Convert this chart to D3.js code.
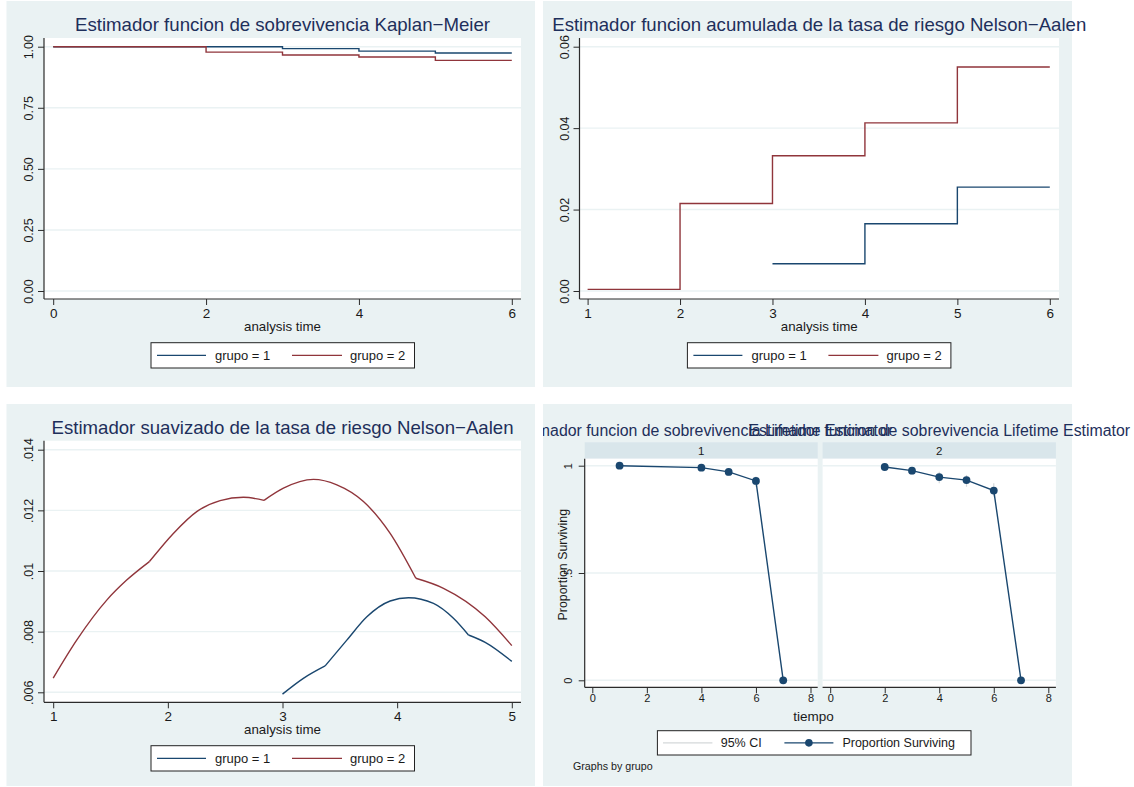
<!DOCTYPE html>
<html>
<head>
<meta charset="utf-8">
<script src="https://cdn.jsdelivr.net/npm/d3@7"></script>
<style>
  body { margin: 0; background: #fff; }
  svg { display: block; }
  text { font-family: "Liberation Sans", Arial, Helvetica, sans-serif; }
</style>
</head>
<body>
<svg id="chart" width="1134" height="787"></svg>
<script>
// ---------------- data ----------------
const groupLabels = ["grupo = 1", "grupo = 2"];

// Kaplan–Meier survival estimate (right-continuous steps)
const kmTime1 = [0, 3, 4, 5, 6];
const kmSurv1 = [1, 0.992, 0.982, 0.974, 0.974];
const kmTime2 = [0, 2, 3, 4, 5, 6];
const kmSurv2 = [1, 0.978, 0.966, 0.958, 0.944, 0.944];
const kmTicksX = [0, 2, 4, 6];
const kmTicksY = [0, 0.25, 0.5, 0.75, 1];
const kmTickLabelsY = ["0.00", "0.25", "0.50", "0.75", "1.00"];

// Nelson–Aalen cumulative hazard
const naTime1 = [3, 4, 5, 6];
const naHaz1 = [0.0067, 0.0165, 0.0255, 0.0255];
const naTime2 = [1, 2, 3, 4, 5, 6];
const naHaz2 = [0.0004, 0.0215, 0.0332, 0.0413, 0.0550, 0.0550];
const naTicksX = [1, 2, 3, 4, 5, 6];
const naTicksY = [0, 0.02, 0.04, 0.06];
const naTickLabelsY = ["0.00", "0.02", "0.04", "0.06"];

// Kernel-smoothed hazard
const smTime1 = [3.0, 3.182, 3.372, 3.561, 3.736, 3.939, 4.099, 4.317, 4.491, 4.622, 4.768, 5.0];
const smHaz1  = [0.00594, 0.00646, 0.00687, 0.00772, 0.00849, 0.00901, 0.00912, 0.00893, 0.00844, 0.00789, 0.00765, 0.00702];
const smBreaks1 = [3.372, 4.622];
const smTime2 = [1.0, 1.205, 1.467, 1.641, 1.839, 2.048, 2.252, 2.456, 2.659, 2.839, 3.008, 3.27, 3.474, 3.706, 3.939, 4.163, 4.404, 4.768, 5.0];
const smHaz2  = [0.00647, 0.00772, 0.00904, 0.00970, 0.01031, 0.01124, 0.01196, 0.01232, 0.01243, 0.01233, 0.01273, 0.01302, 0.01284, 0.01229, 0.01124, 0.00976, 0.00943, 0.00849, 0.00754];
const smBreaks2 = [1.839, 2.839, 4.163];
const smTicksX = [1, 2, 3, 4, 5];
const smTicksY = [0.006, 0.008, 0.010, 0.012, 0.014];
const smTickLabelsY = [".006", ".008", ".01", ".012", ".014"];

// Life-table survival by group, with 95% CI
const facetLabels = ["1", "2"];
const ltTime1 = [1, 4, 5, 6, 7];
const ltSurv1 = [1.0, 0.991, 0.971, 0.929, 0];
const ltLow1  = [1.0, 0.978, 0.952, 0.902, 0];
const ltHigh1 = [1.0, 0.997, 0.984, 0.950, 0];
const ltTime2 = [2, 3, 4, 5, 6, 7];
const ltSurv2 = [0.994, 0.977, 0.947, 0.933, 0.884, 0];
const ltLow2  = [0.985, 0.957, 0.918, 0.902, 0.856, 0];
const ltHigh2 = [0.998, 0.988, 0.972, 0.957, 0.918, 0];
const ltTicksX = [0, 2, 4, 6, 8];
const ltTicksY = [0, 0.5, 1];
const ltTickLabelsY = ["0", ".5", "1"];

const titles = [
  "Estimador funcion de sobrevivencia Kaplan\u2212Meier",
  "Estimador funcion acumulada de la tasa de riesgo Nelson\u2212Aalen",
  "Estimador suavizado de la tasa de riesgo Nelson\u2212Aalen",
  "Estimador funcion de sobrevivencia Lifetime Estimator"
];

// ---------------- style ----------------
const NAVY = "#1a476f", MAROON = "#90353b";
const BG = "#eaf2f3", GRID = "#eaf2f3", STRIP = "#d9e6eb";
const TITLE_C = "#1e2f5b", TEXT_C = "#1a1a1a", AXIS_C = "#2b2b2b";
const CI_C = "#d4d8da";

const svg = d3.select("#chart");
const zip = (xs, ys) => xs.map((x, i) => [x, ys[i]]);

function panelFrame(bg) {
  svg.append("rect").attr("x", bg[0]).attr("y", bg[1])
    .attr("width", bg[2] - bg[0]).attr("height", bg[3] - bg[1]).attr("fill", BG);
}

function title(txt, cx, y, size, len, clipId) {
  const t = svg.append("text").attr("x", cx).attr("y", y)
    .attr("text-anchor", "middle").attr("font-size", size)
    .attr("fill", TITLE_C).attr("textLength", len)
    .attr("lengthAdjust", "spacingAndGlyphs").text(txt);
  if (clipId) t.attr("clip-path", `url(#${clipId})`);
}

function yAxis(g, y, ax, ticks, labels, size, labelOff) {
  const a = g.append("g").attr("transform", `translate(${ax},0)`)
    .call(d3.axisLeft(y).tickValues(ticks).tickSize(6).tickFormat((d, i) => labels[i]));
  a.select(".domain").remove();
  a.selectAll(".tick line").attr("stroke", AXIS_C).attr("stroke-width", 1);
  a.selectAll(".tick text").attr("transform", "rotate(-90)")
    .attr("x", 0).attr("y", labelOff).attr("dy", 0)
    .attr("text-anchor", "middle").attr("font-size", size)
    .attr("font-family", null).attr("fill", TEXT_C);
}

function xAxis(g, x, ay, ticks, size, labelY) {
  const a = g.append("g").attr("transform", `translate(0,${ay})`)
    .call(d3.axisBottom(x).tickValues(ticks).tickSize(6).tickFormat(d3.format("d")));
  a.select(".domain").remove();
  a.selectAll(".tick line").attr("stroke", AXIS_C).attr("stroke-width", 1);
  a.selectAll(".tick text").attr("y", labelY).attr("dy", 0)
    .attr("font-size", size).attr("font-family", null).attr("fill", TEXT_C);
}

function gridLines(g, y, ticks, x0, x1) {
  g.selectAll(null).data(ticks).join("line")
    .attr("x1", x0).attr("x2", x1)
    .attr("y1", d => y(d)).attr("y2", d => y(d))
    .attr("stroke", GRID).attr("stroke-width", 1.4);
}

function axisLines(g, p, showY) {
  g.append("line").attr("x1", p[0]).attr("x2", p[2]).attr("y1", p[3]).attr("y2", p[3])
    .attr("stroke", AXIS_C).attr("stroke-width", 1.2);
  if (showY) g.append("line").attr("x1", p[0]).attr("x2", p[0]).attr("y1", p[1]).attr("y2", p[3])
    .attr("stroke", AXIS_C).attr("stroke-width", 1.2);
}

function legend(items, bx, by, bw, bh, size) {
  const g = svg.append("g").attr("transform", `translate(${bx},${by})`);
  g.append("rect").attr("width", bw).attr("height", bh)
    .attr("fill", "#fff").attr("stroke", "#222").attr("stroke-width", 1);
  const cy = bh / 2;
  items.forEach(it => {
    g.append("line").attr("x1", it.l0).attr("x2", it.l1).attr("y1", cy).attr("y2", cy)
      .attr("stroke", it.color).attr("stroke-width", it.w || 1.4);
    if (it.marker) g.append("circle").attr("cx", (it.l0 + it.l1) / 2).attr("cy", cy)
      .attr("r", 3.8).attr("fill", it.color);
    g.append("text").attr("x", it.tx).attr("y", cy + size * 0.36)
      .attr("font-size", size).attr("fill", TEXT_C).text(it.label);
  });
}

function xTitle(txt, cx, y, size) {
  svg.append("text").attr("x", cx).attr("y", y).attr("text-anchor", "middle")
    .attr("font-size", size).attr("fill", TEXT_C).text(txt);
}

const stepLine = (x, y) => d3.line().x(d => x(d[0])).y(d => y(d[1])).curve(d3.curveStepAfter);

function drawSeries(g, pts, line, color) {
  g.append("path").datum(pts).attr("d", line).attr("fill", "none")
    .attr("stroke", color).attr("stroke-width", 1.4);
}

// common legend for the three two-group panels
function groupLegend(bx, by) {
  legend([
    { l0: 6, l1: 55, tx: 64, color: NAVY, label: groupLabels[0] },
    { l0: 141, l1: 191, tx: 199, color: MAROON, label: groupLabels[1] }
  ], bx, by, 263.5, 25.3, 13);
}

// ---------------- panel 1: Kaplan–Meier ----------------
{
  const p = [44, 38, 521, 299];
  panelFrame([6.5, 1, 535, 387]);
  const g = svg.append("g");
  g.append("rect").attr("x", p[0]).attr("y", p[1]).attr("width", p[2] - p[0]).attr("height", p[3] - p[1]).attr("fill", "#fff");
  const x = d3.scaleLinear().domain([0, 6]).range([53.2, 511.8]);
  const y = d3.scaleLinear().domain([0, 1]).range([291, 46.7]);
  gridLines(g, y, kmTicksY, p[0], p[2]);
  drawSeries(g, zip(kmTime1, kmSurv1), stepLine(x, y), NAVY);
  drawSeries(g, zip(kmTime2, kmSurv2), stepLine(x, y), MAROON);
  axisLines(g, p, true);
  yAxis(g, y, p[0], kmTicksY, kmTickLabelsY, 12.5, -11);
  xAxis(g, x, p[3], kmTicksX, 13.5, 19);
  title(titles[0], (p[0] + p[2]) / 2, 31, 18.5, 415);
  xTitle("analysis time", (p[0] + p[2]) / 2, 331, 13.3);
  groupLegend(151, 342.7);
}

// ---------------- panel 2: Nelson–Aalen cumulative hazard ----------------
{
  const p = [579.5, 38, 1059, 299];
  panelFrame([543, 1, 1072, 387]);
  const g = svg.append("g");
  g.append("rect").attr("x", p[0]).attr("y", p[1]).attr("width", p[2] - p[0]).attr("height", p[3] - p[1]).attr("fill", "#fff");
  const x = d3.scaleLinear().domain([1, 6]).range([587.6, 1049.8]);
  const y = d3.scaleLinear().domain([0, 0.06]).range([291, 46.7]);
  gridLines(g, y, naTicksY, p[0], p[2]);
  drawSeries(g, zip(naTime1, naHaz1), stepLine(x, y), NAVY);
  drawSeries(g, zip(naTime2, naHaz2), stepLine(x, y), MAROON);
  axisLines(g, p, true);
  yAxis(g, y, p[0], naTicksY, naTickLabelsY, 12.5, -11);
  xAxis(g, x, p[3], naTicksX, 13.5, 19);
  title(titles[1], (p[0] + p[2]) / 2, 31, 18.5, 534);
  xTitle("analysis time", (p[0] + p[2]) / 2, 331, 13.3);
  groupLegend(687.4, 342.7);
}

// ---------------- panel 3: smoothed hazard ----------------
{
  const p = [44, 440.7, 521, 702.3];
  panelFrame([6.5, 404, 535, 786]);
  const g = svg.append("g");
  g.append("rect").attr("x", p[0]).attr("y", p[1]).attr("width", p[2] - p[0]).attr("height", p[3] - p[1]).attr("fill", "#fff");
  const x = d3.scaleLinear().domain([1, 5]).range([53.2, 511.8]);
  const y = d3.scaleLinear().domain([0.006, 0.014]).range([692.3, 449.7]);
  gridLines(g, y, smTicksY, p[0], p[2]);
  const curve = d3.line().x(d => x(d[0])).y(d => y(d[1])).curve(d3.curveMonotoneX);
  // the estimate is piecewise smooth: draw each piece between boundary breaks
  function pieces(ts, hs, breaks) {
    const pts = zip(ts, hs), out = [];
    let cur = [];
    pts.forEach(pt => {
      cur.push(pt);
      if (breaks.includes(pt[0])) { out.push(cur); cur = [pt]; }
    });
    if (cur.length > 1) out.push(cur);
    return out;
  }
  pieces(smTime2, smHaz2, smBreaks2).forEach(seg => drawSeries(g, seg, curve, MAROON));
  pieces(smTime1, smHaz1, smBreaks1).forEach(seg => drawSeries(g, seg, curve, NAVY));
  axisLines(g, p, true);
  yAxis(g, y, p[0], smTicksY, smTickLabelsY, 12.5, -11);
  xAxis(g, x, p[3], smTicksX, 13.5, 19);
  title(titles[2], (p[0] + p[2]) / 2, 433.7, 18.5, 462);
  xTitle("analysis time", (p[0] + p[2]) / 2, 734, 13.3);
  groupLegend(151, 745.7);
}

// ---------------- panel 4: life-table survival, by group ----------------
{
  panelFrame([543, 404, 1072, 786]);
  svg.append("clipPath").attr("id", "ltClip")
    .append("rect").attr("x", 543).attr("y", 380).attr("width", 600).attr("height", 80);
  const y = d3.scaleLinear().domain([0, 1]).range([680.3, 465.7]);
  const facets = [
    { p: [584.7, 458.7, 817.7, 687.3], x: [592.3, 810.5], t: ltTime1, s: ltSurv1, lo: ltLow1, hi: ltHigh1 },
    { p: [822.6, 458.7, 1055.9, 687.3], x: [830.2, 1048.3], t: ltTime2, s: ltSurv2, lo: ltLow2, hi: ltHigh2 }
  ];
  facets.forEach((f, i) => {
    const p = f.p;
    const g = svg.append("g");
    // strip with group label
    g.append("rect").attr("x", p[0]).attr("y", 442.3).attr("width", p[2] - p[0]).attr("height", p[1] - 442.3).attr("fill", STRIP);
    g.append("text").attr("x", (p[0] + p[2]) / 2).attr("y", 454.5).attr("text-anchor", "middle")
      .attr("font-size", 11.5).attr("fill", TEXT_C).text(facetLabels[i]);
    g.append("rect").attr("x", p[0]).attr("y", p[1]).attr("width", p[2] - p[0]).attr("height", p[3] - p[1]).attr("fill", "#fff");
    const x = d3.scaleLinear().domain([0, 8]).range(f.x);
    gridLines(g, y, ltTicksY, p[0], p[2]);
    // confidence intervals
    g.selectAll(null).data(f.t.map((t, k) => [t, f.lo[k], f.hi[k]])).join("line")
      .attr("x1", d => x(d[0])).attr("x2", d => x(d[0]))
      .attr("y1", d => y(d[1])).attr("y2", d => y(d[2]))
      .attr("stroke", CI_C).attr("stroke-width", 1.2);
    const ln = d3.line().x(d => x(d[0])).y(d => y(d[1]));
    drawSeries(g, zip(f.t, f.s), ln, NAVY);
    g.selectAll(null).data(zip(f.t, f.s)).join("circle")
      .attr("cx", d => x(d[0])).attr("cy", d => y(d[1])).attr("r", 3.9).attr("fill", NAVY);
    axisLines(g, p, i === 0);
    if (i === 0) yAxis(g, y, p[0], ltTicksY, ltTickLabelsY, 11, -13);
    xAxis(g, x, p[3], ltTicksX, 11, 14.5);
    title(titles[3], (p[0] + p[2]) / 2, 436, 16, 381.5, "ltClip");
  });
  // y title
  svg.append("text").attr("transform", "translate(567,564.7) rotate(-90)")
    .attr("text-anchor", "middle").attr("font-size", 12.4).attr("fill", TEXT_C).text("Proportion Surviving");
  xTitle("tiempo", 813.5, 721, 13.5);
  legend([
    { l0: 5.6, l1: 55, tx: 63.3, color: CI_C, label: "95% CI", w: 1.4 },
    { l0: 127, l1: 176, tx: 185, color: NAVY, label: "Proportion Surviving", marker: true }
  ], 657.4, 730.7, 313.6, 24.3, 12.5);
  svg.append("text").attr("x", 573).attr("y", 769.5).attr("font-size", 10.7)
    .attr("fill", TEXT_C).text("Graphs by grupo");
}
</script>
</body>
</html>
